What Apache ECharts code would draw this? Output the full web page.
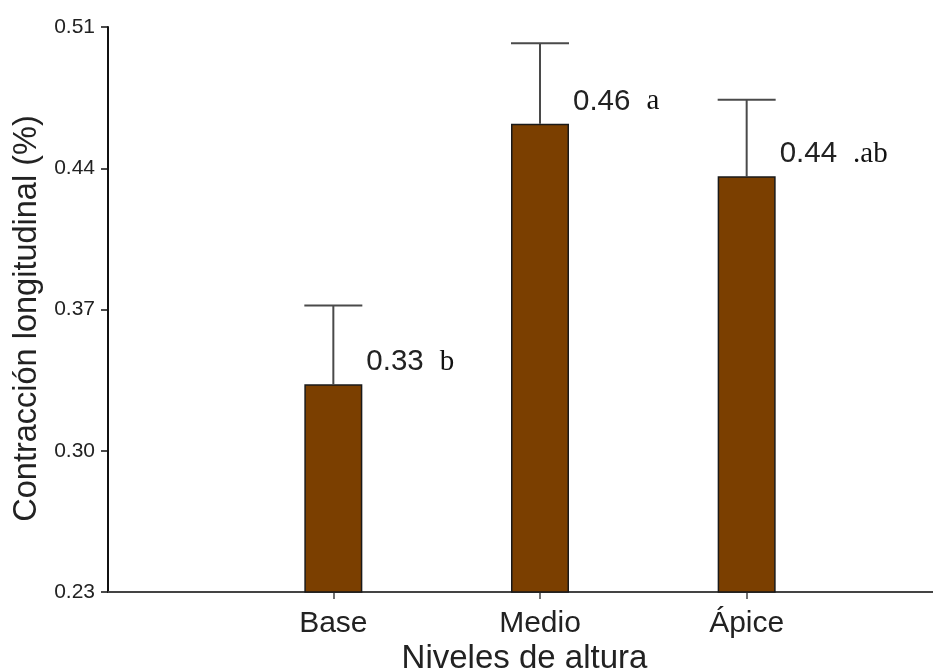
<!DOCTYPE html>
<html>
<head>
<meta charset="utf-8">
<script src="https://cdn.jsdelivr.net/npm/echarts@6/dist/echarts.min.js"></script>
<style>
  html, body { margin: 0; padding: 0; background: #ffffff; }
  #chart { width: 933px; height: 671px; }
</style>
</head>
<body>
<div id="chart"></div>
<script>
// Longitudinal shrinkage by stem height level (mean and upper error limit)
const categories = ['Base', 'Medio', 'Ápice'];
const means = [0.333, 0.462, 0.436];
const upperLimits = [0.372, 0.502, 0.474];
const groupLetters = ['b', 'a', '.ab'];
const yTicks = [0.23, 0.30, 0.37, 0.44, 0.51];

const BAR_W = 58;
const TOP = 27, BOTTOM = 79;
const yMin = yTicks[0], yMax = yTicks[yTicks.length - 1];
const SANS = 'Liberation Sans, Arial, sans-serif';
const SERIF = 'Liberation Serif, Times New Roman, serif';

const chart = echarts.init(document.getElementById('chart'), null, { renderer: 'canvas' });

const errData = categories.map((c, i) => [i, means[i], upperLimits[i]]);

chart.setOption({
  backgroundColor: '#ffffff',
  animation: false,
  grid: [
    // frame grid: carries the y axis and the full-width x axis line
    { left: 108, right: 0, top: TOP, bottom: BOTTOM, outerBoundsMode: 'none', containLabel: false },
    // bar grid: holds the three height levels
    { left: 230, right: 83, top: TOP, bottom: BOTTOM, outerBoundsMode: 'none', containLabel: false }
  ],
  xAxis: [
    {
      gridIndex: 0,
      type: 'category',
      data: [],
      axisLine: { show: true, lineStyle: { color: '#444444', width: 2 } },
      axisTick: { show: false },
      axisLabel: { show: false },
      splitLine: { show: false },
      name: 'Niveles de altura',
      nameLocation: 'middle',
      nameGap: 50,
      nameTextStyle: { fontFamily: SANS, fontSize: 33, color: '#222222', padding: [0, 0, 0, 8] }
    },
    {
      gridIndex: 1,
      type: 'category',
      data: categories,
      axisLine: { show: false },
      axisTick: { show: true, alignWithLabel: true, length: 7, lineStyle: { color: '#444444', width: 1.5 } },
      axisLabel: { margin: 17, fontFamily: SANS, fontSize: 30, color: '#222222' },
      splitLine: { show: false }
    }
  ],
  yAxis: [
    {
      gridIndex: 0,
      type: 'value',
      min: yMin,
      max: yMax,
      axisLine: { show: true, lineStyle: { color: '#111111', width: 2 } },
      axisTick: { show: true, customValues: yTicks, length: 7, lineStyle: { color: '#111111', width: 1.5 } },
      axisLabel: {
        customValues: yTicks,
        margin: 13,
        fontFamily: SANS,
        fontSize: 21,
        color: '#222222',
        formatter: v => v.toFixed(2)
      },
      splitLine: { show: false },
      name: 'Contracción longitudinal (%)',
      nameLocation: 'middle',
      nameRotate: 90,
      nameGap: 62,
      nameTextStyle: { fontFamily: SANS, fontSize: 32.5, color: '#222222', padding: [0, 18, 0, 0] }
    },
    {
      gridIndex: 1,
      type: 'value',
      min: yMin,
      max: yMax,
      show: false,
      splitLine: { show: false }
    }
  ],
  series: [
    {
      type: 'custom',
      xAxisIndex: 1,
      yAxisIndex: 1,
      z: 1,
      data: errData,
      encode: { x: 0, y: [1, 2] },
      renderItem: function (params, api) {
        const i = api.value(0);
        const pMean = api.coord([i, api.value(1)]);
        const pUp = api.coord([i, api.value(2)]);
        const half = BAR_W / 2;
        const style = { stroke: '#4a4a4a', lineWidth: 2 };
        return {
          type: 'group',
          children: [
            { type: 'line', shape: { x1: pMean[0], y1: pMean[1], x2: pUp[0], y2: pUp[1] }, style: style },
            { type: 'line', shape: { x1: pUp[0] - half, y1: pUp[1], x2: pUp[0] + half, y2: pUp[1] }, style: style }
          ]
        };
      }
    },
    {
      type: 'bar',
      xAxisIndex: 1,
      yAxisIndex: 1,
      z: 2,
      barWidth: BAR_W,
      data: means,
      itemStyle: { color: '#7b3f00', borderColor: '#1a1a1a', borderWidth: 1.5 },
      label: {
        show: true,
        position: [BAR_W + 4, -22],
        align: 'left',
        verticalAlign: 'middle',
        formatter: p => '{n|' + p.value.toFixed(2) + '}{s|' + groupLetters[p.dataIndex] + '}',
        rich: {
          n: { fontFamily: SANS, fontSize: 29.5, color: '#222222' },
          s: { fontFamily: SERIF, fontSize: 29, color: '#111111', padding: [0, 0, 0, 16] }
        }
      }
    }
  ]
});
</script>
</body>
</html>
